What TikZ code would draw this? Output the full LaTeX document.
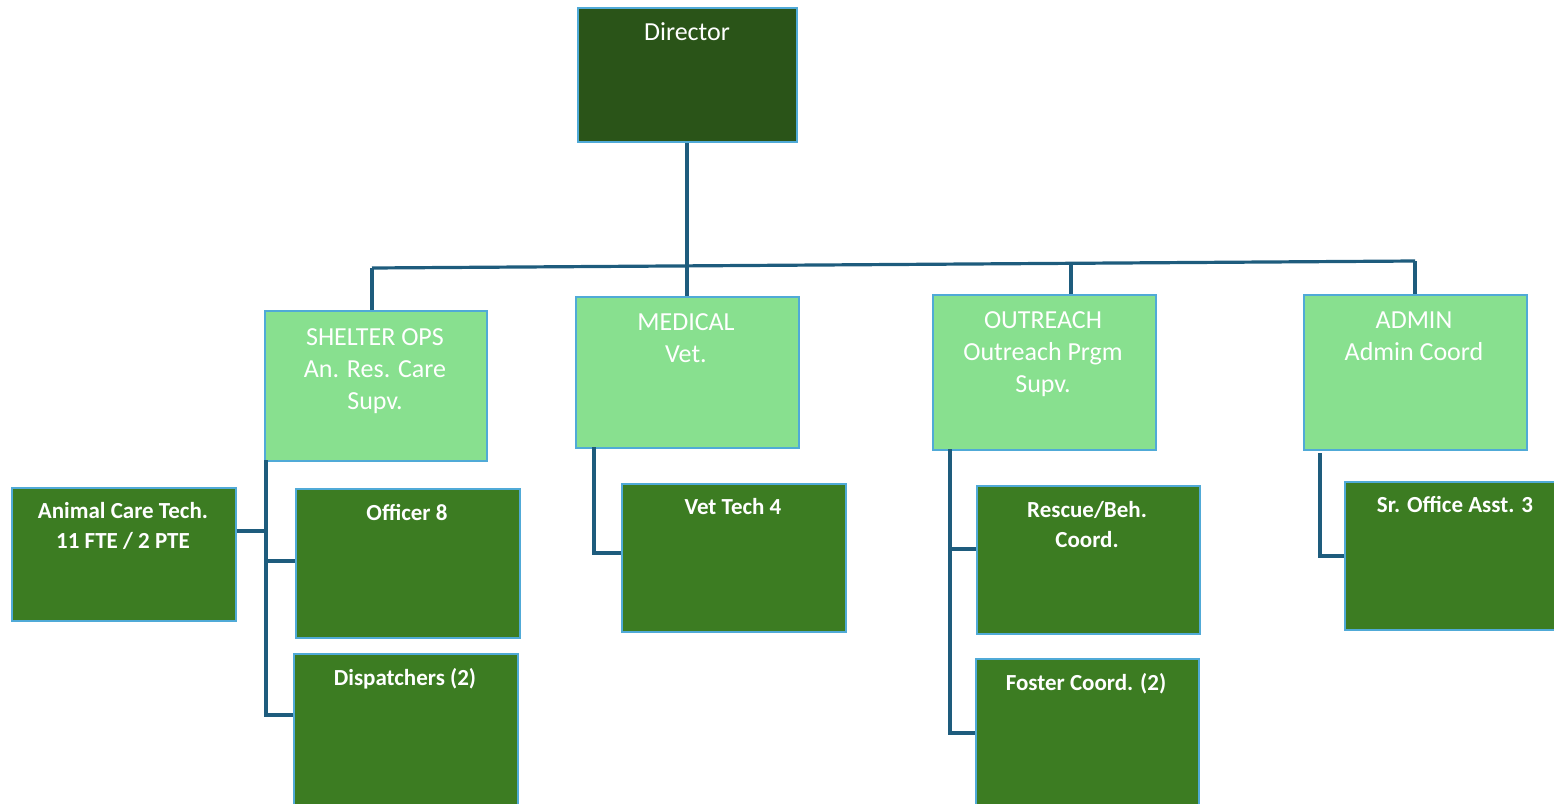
\documentclass[tikz,border=0pt]{standalone}
\usepackage{fontspec}
\setmainfont{Carlito}
\definecolor{dirgreen}{RGB}{42,84,24}
\definecolor{darkgreen}{RGB}{60,124,34}
\definecolor{lightgreen}{RGB}{136,224,143}
\definecolor{boxedge}{RGB}{80,170,215}
\definecolor{linkcol}{RGB}{30,92,125}
\begin{document}
\begin{tikzpicture}[x=1pt,y=-1pt,
  box/.style={draw=boxedge, line width=2.2pt, rectangle, inner sep=0pt, anchor=north west},
  dirbox/.style={box, fill=dirgreen},
  lightbox/.style={box, fill=lightgreen},
  darkbox/.style={box, fill=darkgreen},
  lighttext/.style={text=white, anchor=base, align=center, inner sep=0pt,
    font=\fontsize{26}{32}\selectfont},
  darktext/.style={text=white, anchor=base, align=center, inner sep=0pt,
    font=\fontsize{23}{30}\selectfont\bfseries},
  link/.style={draw=linkcol, line width=3.2pt}
]
\useasboundingbox (0,0) rectangle (1554,803);

% boxes
\node[dirbox, minimum width=219, minimum height=134] (dir) at (577,7) {};
\node[lightbox, minimum width=222, minimum height=150] (shelter) at (264,310) {};
\node[lightbox, minimum width=223, minimum height=151] (medical) at (575,296) {};
\node[lightbox, minimum width=223, minimum height=155] (outreach) at (932,294) {};
\node[lightbox, minimum width=223, minimum height=155] (admin) at (1303,294) {};

\node[darkbox, minimum width=224, minimum height=133] (act) at (11,487) {};
\node[darkbox, minimum width=224, minimum height=149] (officer) at (295,488) {};
\node[darkbox, minimum width=224, minimum height=152] (disp) at (293,653) {};
\node[darkbox, minimum width=224, minimum height=148] (vettech) at (621,483) {};
\node[darkbox, minimum width=223, minimum height=148] (rescue) at (976,485) {};
\node[darkbox, minimum width=223, minimum height=148] (foster) at (975,658) {};
\node[darkbox, minimum width=212, minimum height=148] (sroff) at (1344,481) {};

% texts (base anchor = baseline of the last line)
\node[lighttext] (tdir) at (687,40) {Director};
\node[lighttext] (tshelter) at (375,409) {SHELTER OPS\\An. Res. Care\\Supv.};
\node[lighttext] (tmedical) at (686,362) {MEDICAL\\Vet.};
\node[lighttext] (toutreach) at (1043,392) {OUTREACH\\Outreach Prgm\\Supv.};
\node[lighttext] (tadmin) at (1414,360) {ADMIN\\Admin Coord};

\node[darktext] (tact) at (123,548) {Animal Care Tech.\\11 FTE / 2 PTE};
\node[darktext] (tofficer) at (407,520) {Officer 8};
\node[darktext] (tdisp) at (405,685) {Dispatchers (2)};
\node[darktext] (tvettech) at (733,514) {Vet Tech 4};
\node[darktext] (trescue) at (1087,547) {Rescue/Beh.\\Coord.};
\node[darktext] (tfoster) at (1086,690) {Foster Coord. (2)};
\node[darktext] (tsroff) at (1455,512) {Sr. Office Asst. 3};

% bus
\coordinate (busL) at (372,268);
\coordinate (busR) at (1415,261);
\coordinate (busD) at (687,266);
\coordinate (busO) at (1071,263);
\draw[link] (busL) -- (busR);
\draw[link] (dir.south -| busD) -- (busD);
\draw[link] (busL) -- (busL |- shelter.north);
\draw[link] (busD) -- (busD |- medical.north);
\draw[link] (busO) -- (busO |- outreach.north);
\draw[link] (busR) -- (busR |- admin.north);

% shelter branch
\coordinate (sh1) at (266,460);
\coordinate (sh2) at (266,715);
\draw[link] (sh1) -- (sh2) -- (sh2 -| disp.west);
\draw[link] (266,531) -- (act.east |- 0,531);
\draw[link] (266,561) -- (officer.west |- 0,561);

% medical branch
\coordinate (md1) at (594,447);
\coordinate (md2) at (594,553);
\draw[link] (md1) -- (md2) -- (md2 -| vettech.west);

% outreach branch
\coordinate (or1) at (950,449);
\coordinate (or2) at (950,733);
\draw[link] (or1) -- (or2) -- (or2 -| foster.west);
\draw[link] (950,549) -- (rescue.west |- 0,549);

% admin branch
\coordinate (ad1) at (1320,453);
\coordinate (ad2) at (1320,556);
\draw[link] (ad1) -- (ad2) -- (ad2 -| sroff.west);
\end{tikzpicture}
\end{document}
